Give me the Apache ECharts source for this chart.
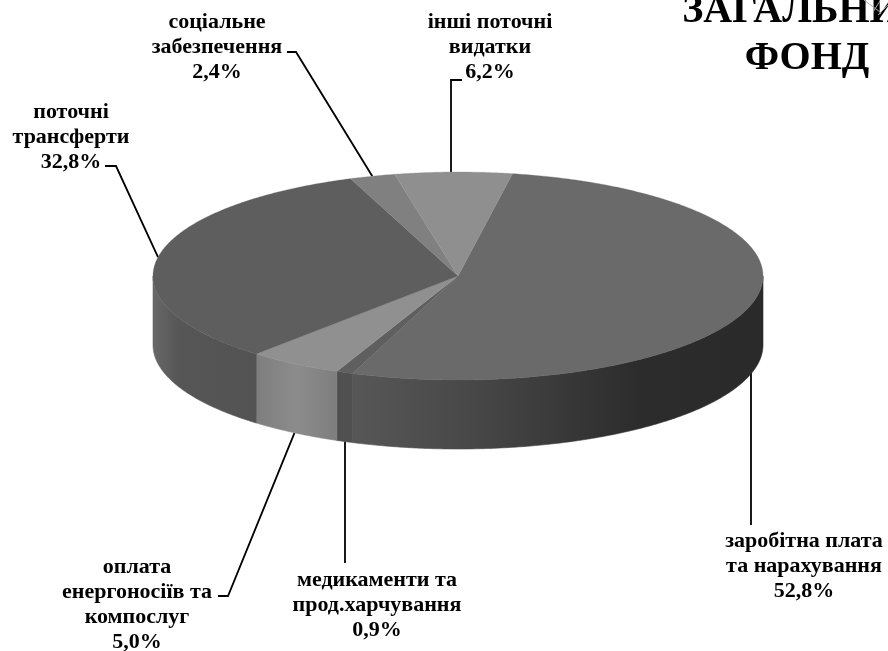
<!DOCTYPE html>
<html><head><meta charset="utf-8">
<style>html,body{margin:0;padding:0;background:#fff;overflow:hidden}#c{width:888px;height:651px}</style>
<script src="https://cdn.jsdelivr.net/npm/echarts@6/dist/echarts.min.js"></script>
</head><body><div id="c"></div>
<script>
const categories = ['заробітна плата\nта нарахування','медикаменти та\nпрод.харчування','оплата\nенергоносіїв та\nкомпослуг','поточні\nтрансферти','соціальне\nзабезпечення','інші поточні\nвидатки'];
const shares = [52.8,0.9,5.0,32.8,2.4,6.2];
const shareLabels = ['52,8%','0,9%','5,0%','32,8%','2,4%','6,2%'];
const titleLines = 'ЗАГАЛЬНИЙ\nФОНД';
const topColors = ['#6a6a6a','#5f5f5f','#909090','#5e5e5e','#808080','#8f8f8f'];
const sideStops = [
 [[0,'#575757'],[0.3,'#474747'],[0.7,'#2c2c2c'],[1,'#2a2a2a']],
 [[0,'#505050'],[1,'#505050']],
 [[0,'#7e7e7e'],[0.5,'#8c8c8c'],[1,'#7e7e7e']],
 [[0,'#686868'],[0.25,'#565656'],[1,'#535353']],
 [[0,'#777'],[1,'#777']],
 [[0,'#888'],[1,'#888']]
];
const labelBoxes = [[804,566],[377,605],[137,605],[71,137],[217,47],[490,47]];
const leaderElbows = [[[751,525]],[[345,563]],[[228,596],[218,596]],[[116,166],[105,166]],[[296,52],[287,52]],[[451,80],[462,80]]];

const CX=458, CY=276, RX=305, RY=104, DEPTH=69, START=10.3;
const rad=d=>d*Math.PI/180;
const pt=(t,dy)=>[CX+RX*Math.sin(rad(t)), CY-RY*Math.cos(rad(t))+(dy||0)];
const total=shares.reduce((a,b)=>a+b,0);
const bounds=[START];
shares.forEach(v=>bounds.push(bounds[bounds.length-1]+v/total*360));
const arc=(a,b,dy)=>{const n=Math.max(2,Math.ceil(Math.abs(b-a)*2));const o=[];for(let i=0;i<=n;i++)o.push(pt(a+(b-a)*i/n,dy));return o;};

function renderSlice(params,api){
  const i=api.value(0), a=bounds[i], b=bounds[i+1], kids=[];
  const lo=Math.max(a,90), hi=Math.min(b,270);
  if(hi>lo){
    const pts=arc(lo,hi,0).concat(arc(hi,lo,DEPTH));
    const xs=pts.map(p=>p[0]), x0=Math.min(...xs), x1=Math.max(...xs);
    const grad=()=>new echarts.graphic.LinearGradient(x0,0,x1,0,sideStops[i].map(s=>({offset:s[0],color:s[1]})),true);
    kids.push({type:'polygon',shape:{points:pts},style:{fill:grad(),stroke:grad(),lineWidth:0.6}});
  }
  kids.push({type:'polygon',shape:{points:[[CX,CY]].concat(arc(a,b,0))},style:{fill:topColors[i],stroke:topColors[i],lineWidth:0.3}});
  return {type:'group',children:kids};
}

const graphics=[];
shares.forEach((v,i)=>{
  const mid=(bounds[i]+bounds[i+1])/2, m=((mid%360)+360)%360;
  const front=m>90&&m<270;
  const anchor=pt(mid,front?DEPTH:0);
  const first=leaderElbows[i][0];
  if(Math.abs(anchor[0]-first[0])<8) anchor[0]=first[0];
  const pts=[anchor].concat(leaderElbows[i]);
  graphics.push({type:'polyline',shape:{points:pts},style:{stroke:'#000',lineWidth:1.8,fill:null},z:1});
  graphics.push({type:'text',x:labelBoxes[i][0],y:labelBoxes[i][1],style:{text:categories[i]+'\n'+shareLabels[i],
    font:'bold 22px "Liberation Serif"',lineHeight:25,fill:'#000',align:'center',verticalAlign:'middle'},z:5});
});
graphics.push({type:'text',x:807,y:35,style:{text:titleLines,font:'bold 40px "Liberation Serif"',lineHeight:47,fill:'#000',align:'center',verticalAlign:'middle'},z:5});
[[[864,0],[880,12]],[[880,1],[873,12]],[[888,5],[878,15]]].forEach(s=>graphics.push({type:'polyline',shape:{points:s},style:{stroke:'#aaa',lineWidth:1,fill:null},z:6}));

const chart=echarts.init(document.getElementById('c'),null,{renderer:'canvas'});
chart.setOption({animation:false,backgroundColor:'#fff',
  graphic:graphics,
  series:[{type:'custom',coordinateSystem:'none',renderItem:renderSlice,z:3,
    data:shares.map((v,i)=>[i,v,categories[i]]),silent:true}]});
</script></body></html>
